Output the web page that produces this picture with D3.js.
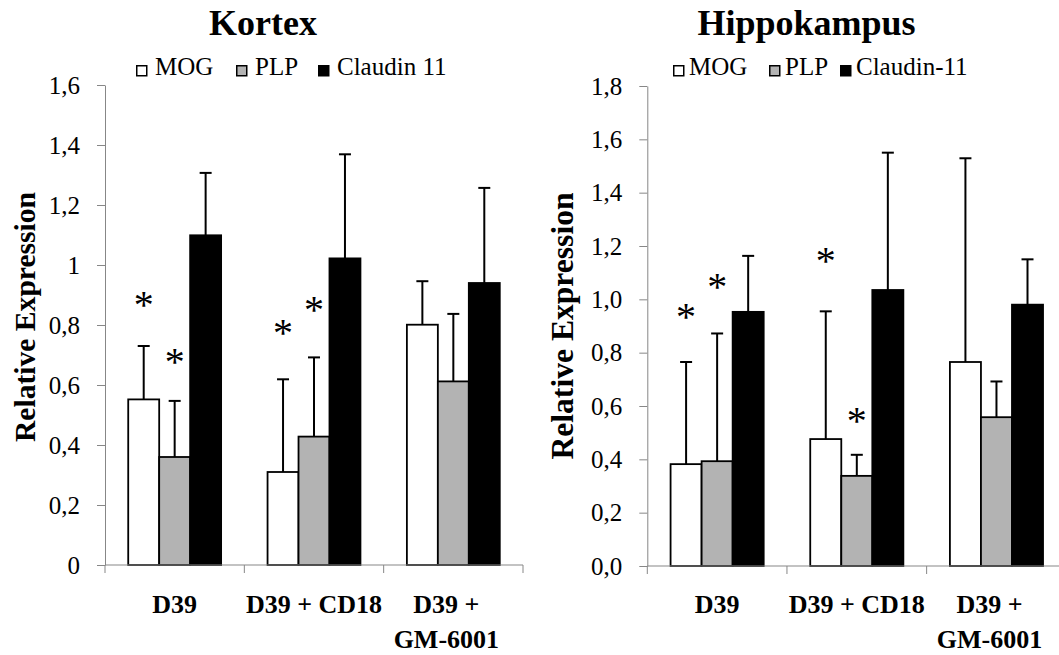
<!DOCTYPE html>
<html>
<head>
<meta charset="utf-8">
<script src="https://cdn.jsdelivr.net/npm/d3@7"></script>
<style>
body { margin: 0; background: #fff; }
</style>
</head>
<body>
<div id="chart"></div>
<script>
// categories and series
var categories = ["D39", "D39 + CD18", "D39 + GM-6001"];
var categoryLines = [["D39"], ["D39 + CD18"], ["D39 +", "GM-6001"]];
var seriesKortex = ["MOG", "PLP", "Claudin 11"];
var seriesHippo = ["MOG", "PLP", "Claudin-11"];

// Kortex: means, upper error (SD), asterisk levels (null = none)
var kortexMOG = [0.552, 0.310, 0.801];
var kortexPLP = [0.360, 0.428, 0.612];
var kortexCLD = [1.099, 1.022, 0.940];
var kortexErrMOG = [0.178, 0.309, 0.145];
var kortexErrPLP = [0.187, 0.264, 0.225];
var kortexErrCLD = [0.208, 0.347, 0.317];
var kortexSigMOG = [0.885, 0.793, null];
var kortexSigPLP = [0.695, 0.867, null];
var kortexSigCLD = [null, null, null];

// Hippokampus
var hippoMOG = [0.382, 0.476, 0.765];
var hippoPLP = [0.393, 0.338, 0.558];
var hippoCLD = [0.953, 1.035, 0.980];
var hippoErrMOG = [0.383, 0.479, 0.764];
var hippoErrPLP = [0.479, 0.079, 0.134];
var hippoErrCLD = [0.210, 0.515, 0.170];
var hippoSigMOG = [0.953, 1.164, null];
var hippoSigPLP = [1.066, 0.566, null];
var hippoSigCLD = [null, null, null];

// axis ticks
var kortexTicks = [0, 0.2, 0.4, 0.6, 0.8, 1.0, 1.2, 1.4, 1.6];
var kortexTickLabels = ["0", "0,2", "0,4", "0,6", "0,8", "1", "1,2", "1,4", "1,6"];
var hippoTicks = [0, 0.2, 0.4, 0.6, 0.8, 1.0, 1.2, 1.4, 1.6, 1.8];
var hippoTickLabels = ["0,0", "0,2", "0,4", "0,6", "0,8", "1,0", "1,2", "1,4", "1,6", "1,8"];

var colors = ["#ffffff", "#b3b3b3", "#000000"];
var axisColor = "#878787";
var FONT = "'Liberation Serif'";

var W = 1059, H = 655;

var ctx = document.createElement("canvas").getContext("2d");
// vertical ink centre of a glyph above its baseline
function glyphCenter(ch, size) {
    ctx.font = size + "px " + FONT;
    var m = ctx.measureText(ch);
    return (m.actualBoundingBoxAscent - m.actualBoundingBoxDescent) / 2;
}

var svg = d3.select("#chart").append("svg")
    .attr("width", W)
    .attr("height", H);

function label(sel, size, bold) {
    return sel.style("font-family", FONT)
        .style("font-size", size + "px")
        .style("font-weight", bold ? "bold" : "normal")
        .attr("fill", "#000");
}

function drawPanel(cfg) {
    var g = svg.append("g");

    var x0 = d3.scaleBand()
        .domain(categories)
        .range([cfg.left, cfg.right])
        .padding(0);

    var x1 = d3.scaleBand()
        .domain(cfg.series)
        .range([0, x0.bandwidth()])
        .paddingInner(0)
        .paddingOuter(0.75);

    var y = d3.scaleLinear()
        .domain([0, cfg.yMax])
        .range([cfg.base, cfg.top]);

    // title
    label(g.append("text"), 36, true)
        .attr("x", cfg.titleX)
        .attr("y", 35)
        .attr("text-anchor", "middle")
        .text(cfg.title);

    // legend
    var leg = g.selectAll(".leg")
        .data(cfg.series)
        .enter()
      .append("g")
        .attr("transform", function(d, i) { return "translate(" + cfg.legendX[i] + ",0)"; });
    leg.append("rect")
        .attr("x", 0.75)
        .attr("y", 65.75)
        .attr("width", 10)
        .attr("height", 10)
        .attr("fill", function(d, i) { return colors[i]; })
        .attr("stroke", "#000")
        .attr("stroke-width", 1.5);
    label(leg.append("text"), 25, false)
        .attr("x", cfg.legendTextDx)
        .attr("y", 75)
        .text(function(d) { return d; });

    // y axis
    var yAxis = d3.axisLeft(y)
        .tickValues(cfg.ticks)
        .tickFormat(function(d, i) { return cfg.tickLabels[i]; })
        .tickSize(8)
        .tickSizeOuter(0)
        .tickPadding(17);

    var ya = g.append("g")
        .attr("transform", "translate(" + cfg.left + ",0)")
        .call(yAxis);
    ya.select(".domain").attr("stroke", axisColor);
    ya.selectAll(".tick line").attr("stroke", axisColor);
    label(ya.selectAll(".tick text"), 25, false);

    // y label
    label(g.append("text"), cfg.yLabelSize, true)
        .attr("transform", "translate(" + cfg.yLabelX + "," + cfg.yLabelY + ") rotate(-90)")
        .attr("text-anchor", "middle")
        .text("Relative Expression");

    // bars
    var groups = g.selectAll(".cat")
        .data(categories)
        .enter()
      .append("g")
        .attr("transform", function(d) { return "translate(" + x0(d) + ",0)"; });

    var bars = groups.selectAll("g.bar")
        .data(function(d, ci) {
            return cfg.series.map(function(s, si) {
                return {
                    s: s, si: si,
                    v: cfg.values[si][ci],
                    e: cfg.errors[si][ci],
                    sig: cfg.sigs[si][ci]
                };
            });
        })
        .enter()
      .append("g")
        .attr("class", "bar");

    bars.append("rect")
        .attr("x", function(d) { return x1(d.s); })
        .attr("y", function(d) { return y(d.v); })
        .attr("width", x1.bandwidth())
        .attr("height", function(d) { return y(0) - y(d.v); })
        .attr("fill", function(d) { return colors[d.si]; })
        .attr("stroke", "#000")
        .attr("stroke-width", 1.8);

    // error bars (upper only)
    bars.append("line")
        .attr("x1", function(d) { return x1(d.s) + x1.bandwidth() / 2; })
        .attr("x2", function(d) { return x1(d.s) + x1.bandwidth() / 2; })
        .attr("y1", function(d) { return y(d.v); })
        .attr("y2", function(d) { return y(d.v + d.e); })
        .attr("stroke", "#000")
        .attr("stroke-width", 2);
    bars.append("line")
        .attr("x1", function(d) { return x1(d.s) + x1.bandwidth() / 2 - 6; })
        .attr("x2", function(d) { return x1(d.s) + x1.bandwidth() / 2 + 6; })
        .attr("y1", function(d) { return y(d.v + d.e); })
        .attr("y2", function(d) { return y(d.v + d.e); })
        .attr("stroke", "#000")
        .attr("stroke-width", 2);

    // asterisks
    var starSize = 40;
    var starOff = glyphCenter("*", starSize);
    label(bars.filter(function(d) { return d.sig != null; }).append("text"), starSize, false)
        .attr("x", function(d) { return x1(d.s) + x1.bandwidth() / 2; })
        .attr("y", function(d) { return y(d.sig) + starOff; })
        .attr("text-anchor", "middle")
        .text("*");

    // x axis
    g.append("line")
        .attr("x1", cfg.left)
        .attr("x2", cfg.right)
        .attr("y1", y(0))
        .attr("y2", y(0))
        .attr("stroke", axisColor);
    var bounds = categories.map(function(c) { return x0(c); }).concat([cfg.right]);
    g.selectAll(".xtick")
        .data(bounds)
        .enter()
      .append("line")
        .attr("x1", function(d) { return d; })
        .attr("x2", function(d) { return d; })
        .attr("y1", y(0))
        .attr("y2", y(0) + 8)
        .attr("stroke", axisColor);

    // category labels
    label(groups.append("text"), 26, true)
        .attr("text-anchor", "middle")
        .attr("transform", function(d, i) {
            var dx = categoryLines[i].length > 1 ? -7 : 0;
            return "translate(" + (x0.bandwidth() / 2 + dx) + ",613)";
        })
        .selectAll("tspan")
        .data(function(d, i) { return categoryLines[i]; })
        .enter()
      .append("tspan")
        .attr("x", 0)
        .attr("dy", function(d, i) { return i === 0 ? 0 : 35; })
        .text(function(d) { return d; });
}

drawPanel({
    title: "Kortex", titleX: 263,
    series: seriesKortex,
    values: [kortexMOG, kortexPLP, kortexCLD],
    errors: [kortexErrMOG, kortexErrPLP, kortexErrCLD],
    sigs: [kortexSigMOG, kortexSigPLP, kortexSigCLD],
    ticks: kortexTicks, tickLabels: kortexTickLabels,
    yMax: 1.6,
    left: 105, right: 523, top: 85, base: 565,
    yLabelX: 35, yLabelY: 317, yLabelSize: 29.6,
    legendX: [136, 236, 318], legendTextDx: 19
});

drawPanel({
    title: "Hippokampus", titleX: 806.5,
    series: seriesHippo,
    values: [hippoMOG, hippoPLP, hippoCLD],
    errors: [hippoErrMOG, hippoErrPLP, hippoErrCLD],
    sigs: [hippoSigMOG, hippoSigPLP, hippoSigCLD],
    ticks: hippoTicks, tickLabels: hippoTickLabels,
    yMax: 1.8,
    left: 647.3, right: 1066.3, top: 86, base: 566,
    yLabelX: 572.5, yLabelY: 326, yLabelSize: 31.6,
    legendX: [673, 769, 840], legendTextDx: 16
});
</script>
</body>
</html>
